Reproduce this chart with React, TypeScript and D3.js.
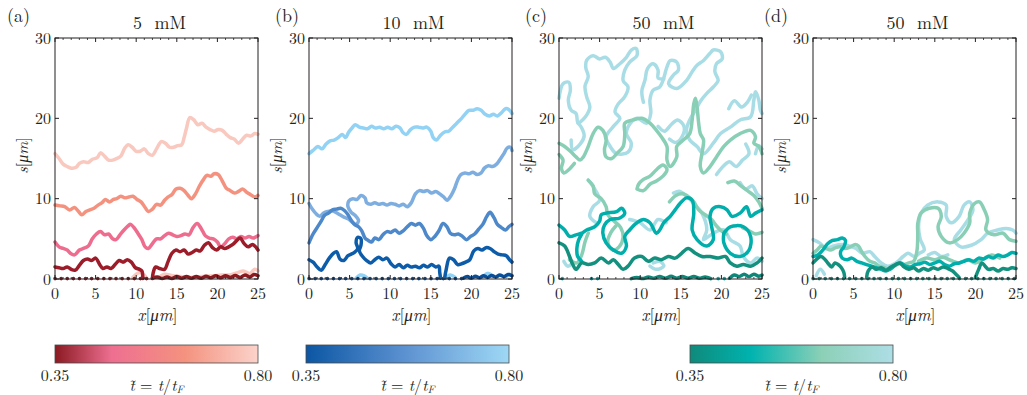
import React from 'react';
import * as d3 from 'd3';

type P = [number, number];

// ---------- labels / ticks ----------
const X_TICKS = [0, 5, 10, 15, 20, 25];
const X_MINOR = [1, 2, 3, 4, 6, 7, 8, 9, 11, 12, 13, 14, 16, 17, 18, 19, 21, 22, 23, 24];
const Y_TICKS = [0, 10, 20, 30];
const PANEL_LABELS = ['(a)', '(b)', '(c)', '(d)'];
const PANEL_TITLES = ['5\u00A0\u2009mM', '10\u00A0\u2009mM', '50\u00A0\u2009mM', '50\u00A0\u2009mM'];
const CB_TICKS = ['0.35', '0.80'];

// ---------- colours ----------
const RED = ['#8A1A20', '#9C1C29', '#EE6C8D', '#F4927F', '#F9C8BF'];
const BLUE = ['#0A4E98', '#0C5CAA', '#4C88CA', '#7DAEDF', '#92D2F4'];
const TEAL = ['#0E8678', '#13907E', '#00AEAB', '#88CFB6', '#A8DDE6'];
const RED_STOPS: [number, string][] = [[0, '#8B1A22'], [0.28, '#EE6F91'], [0.64, '#F4927F'], [1, '#FBD3CB']];
const BLUE_STOPS: [number, string][] = [[0, '#0B56A3'], [0.5, '#5E93D2'], [1, '#9ED8F5']];
const TEAL_STOPS: [number, string][] = [[0, '#0F8A7B'], [0.3, '#00B3AF'], [0.65, '#8CD0B7'], [1, '#ADDEE6']];

// ---------- panel (a) 5 mM ----------
const A_T4: P[] = [[0,15.6],[0.5,15.0],[1,14.3],[1.5,14.0],[2,13.8],[2.6,13.9],[3,14.4],[3.5,14.6],[4.1,14.5],[4.6,14.9],[5.2,15.1],[5.6,15.7],[6.1,15.3],[6.6,14.8],[7.1,14.8],[7.6,15.0],[8.1,15.3],[8.6,16.3],[9,16.7],[9.5,16.4],[10,15.9],[10.5,15.9],[11,16.2],[11.5,15.6],[12,15.4],[12.5,16.2],[13.1,17.1],[13.6,16.9],[14.1,16.4],[14.6,16.4],[15.1,16.6],[15.6,16.7],[15.9,17.6],[16.2,18.8],[16.6,20.1],[17.1,19.8],[17.6,19.2],[18.1,19.4],[18.6,18.9],[19.1,18.6],[19.6,18.4],[20.1,18.6],[20.6,18.5],[21.1,18.0],[21.6,17.6],[22.1,17.4],[22.6,16.9],[23.1,17.4],[23.6,17.9],[24.1,17.8],[24.6,18.1],[25,18.0]];
const A_T4_LOW1: P[] = [[9.5,0.1],[10,0.6],[10.5,0.8],[11,0.5],[11.3,0.1]];
const A_T4_LOW2: P[] = [[12.8,0.2],[13.5,0.6],[14.5,0.4],[15.5,0.3],[16.5,0.2],[18,0.3],[19.5,0.4],[20.5,0.5],[21.5,0.5],[22.5,0.8],[23.2,1.0],[24,0.7],[24.6,1.2],[25,1.0]];
const A_T3: P[] = [[0,9.2],[0.6,9.1],[1.2,9.0],[1.8,8.6],[2.4,8.9],[2.9,8.4],[3.3,8.0],[3.8,8.4],[4.3,8.6],[4.8,8.8],[5.3,9.2],[5.8,9.5],[6.2,9.9],[6.7,9.6],[7.2,9.9],[7.6,10.0],[8.1,10.3],[8.6,10.1],[9.1,10.2],[9.6,10.3],[10.1,9.9],[10.6,9.6],[11.1,8.9],[11.5,8.4],[12,8.7],[12.5,9.3],[13,9.2],[13.5,9.8],[13.9,10.2],[14.4,10.5],[14.9,11.2],[15.4,11.3],[15.9,11.0],[16.4,10.4],[16.8,10.0],[17.3,10.6],[17.8,11.6],[18.3,12.4],[18.7,12.9],[19.2,12.8],[19.6,13.1],[20.1,13.0],[20.6,12.2],[21.1,11.3],[21.6,11.0],[22.1,10.7],[22.6,10.9],[23.1,11.2],[23.6,10.8],[24.1,10.5],[24.6,10.2],[25,10.4]];
const A_T2: P[] = [[0,4.6],[0.5,4.0],[1,3.8],[1.5,3.6],[1.9,3.2],[2.4,3.0],[3,3.6],[3.5,3.8],[4.1,4.1],[4.6,5.0],[5.1,5.6],[5.6,5.9],[6.1,5.5],[6.6,5.6],[7.1,5.0],[7.5,4.9],[8,5.5],[8.5,6.1],[9,6.6],[9.3,6.8],[9.8,6.3],[10.2,5.7],[10.7,4.9],[11.1,4.0],[11.5,3.8],[12,4.4],[12.5,5.0],[13,5.0],[13.5,5.4],[14,5.7],[14.5,5.5],[15,5.3],[15.5,5.4],[16,5.6],[16.5,5.5],[17,6.4],[17.5,6.9],[18,6.3],[18.5,5.4],[19,5.1],[19.5,5.0],[20,4.6],[20.4,4.0],[20.9,4.4],[21.4,5.0],[21.9,5.2],[22.4,5.0],[22.9,5.3],[23.4,5.1],[23.9,5.3],[24.4,5.1],[25,5.4]];
const A_T1_SEG1: P[] = [[0,1.5],[0.5,1.4],[1,1.3],[1.5,1.5],[2,1.2],[2.5,1.1],[3,1.7],[3.5,2.3],[4,2.5],[4.5,2.3],[5,2.6],[5.5,1.8],[5.9,1.3],[6.4,1.5],[6.9,1.3],[7.4,1.8],[7.9,2.3],[8.4,2.1],[8.9,2.4],[9.4,2.1],[9.9,1.4],[10.4,1.2],[10.7,1.0],[10.8,0.4],[10.8,0.05]];
const A_T1_SEG2: P[] = [[12,0.05],[12.1,0.8],[12.4,1.5],[12.9,1.3],[13.5,1.2],[13.9,2.1],[14.4,3.2],[14.9,3.6],[15.4,3.4],[15.9,3.6],[16.4,3.1],[16.9,3.3],[17.4,3.6],[17.9,3.5],[18.4,4.2],[18.9,4.5],[19.4,3.9],[19.9,3.6],[20.4,4.0],[20.9,3.8],[21.4,4.0],[21.9,4.3],[22.4,4.8],[22.8,5.1],[23.3,4.4],[23.8,4.0],[24.3,4.3],[24.7,4.0],[25,3.6]];
const A_T0_DOTS: P[] = [[0,0.05],[12,0.05]];
const A_T0: P[] = [[12,0.1],[12.6,0.25],[13.2,0.05],[13.8,0.25],[14.4,0.05],[15,0.3],[15.6,0.1],[16.2,0.3],[16.8,0.1],[17.4,0.3],[18,0.1],[18.6,0.35],[19.2,0.15],[19.8,0.4],[20.4,0.15],[21,0.4],[21.6,0.2],[22.2,0.45],[22.8,0.2],[23.4,0.5],[24,0.25],[24.5,0.55],[25,0.4]];

// ---------- panel (b) 10 mM ----------
const B_T4: P[] = [[0,15.6],[0.5,16.0],[1.1,16.5],[1.6,16.2],[2.1,16.8],[2.6,17.2],[3.1,17.3],[3.6,17.6],[4.1,18.0],[4.5,17.6],[4.9,18.3],[5.3,18.8],[5.7,19.2],[6.2,18.9],[6.7,18.8],[7.2,18.7],[7.7,19.0],[8.2,18.8],[8.7,18.9],[9.2,18.7],[9.7,18.9],[10.2,18.7],[10.7,19.0],[11.2,18.8],[11.6,18.2],[12,18.0],[12.5,18.6],[13,18.9],[13.5,18.9],[14,18.8],[14.5,18.9],[15,18.4],[15.3,17.6],[15.7,17.3],[16.2,17.9],[16.7,18.3],[17.2,18.4],[17.7,18.9],[18.2,19.4],[18.7,19.9],[19.2,20.5],[19.7,21.0],[20.2,21.0],[20.7,21.2],[21.2,21.0],[21.7,20.5],[22.2,20.3],[22.7,20.5],[23.2,20.3],[23.7,20.7],[24.2,21.2],[24.6,21.1],[25,20.6]];
const B_T4_LOW: P[][] = [[[5.8,0.1],[6.3,0.5],[6.8,0.4],[7.2,0.1]], [[16.8,0.1],[17.4,0.5],[18,0.2]], [[21.4,0.3],[22,0.7],[22.6,0.4]], [[24.3,0.3],[24.7,0.6],[25,0.4]]];
const B_T3: P[] = [[0,9.4],[0.4,8.7],[0.8,8.2],[1.3,7.8],[1.8,8.2],[2.3,8.4],[2.8,8.5],[3.3,8.3],[3.8,8.0],[4.3,7.7],[4.8,7.5],[5.3,7.1],[5.8,6.8],[6.1,7.3],[5.7,7.9],[5.2,8.3],[4.8,9.0],[4.9,9.7],[5.4,10.0],[5.9,9.9],[6.4,10.4],[6.9,10.1],[7.1,9.5],[7.6,9.3],[8.1,9.5],[8.6,9.3],[9.1,9.4],[9.6,9.2],[10.1,9.4],[10.6,9.3],[11.1,9.1],[11.6,9.3],[12.1,9.0],[12.6,9.5],[13.1,10.6],[13.6,11.0],[14.1,10.9],[14.6,11.0],[15.1,10.7],[15.6,10.9],[16.1,10.6],[16.6,10.2],[17,9.8],[17.5,10.4],[17.9,11.2],[18.3,12.3],[18.7,13.0],[19.2,13.2],[19.7,13.1],[20.2,13.3],[20.7,13.0],[21.2,13.2],[21.6,13.8],[22.1,14.1],[22.6,14.0],[23.1,14.3],[23.6,15.0],[24,15.6],[24.4,16.3],[24.8,16.4],[25,16.0]];
const B_T2: P[] = [[0,4.5],[0.5,5.6],[1,6.4],[1.5,7.2],[1.9,7.9],[2.4,8.2],[2.9,8.6],[3.4,8.7],[3.9,8.8],[4.4,8.5],[4.8,8.0],[5.2,7.3],[5.6,6.8],[6.1,6.5],[6.5,6.0],[6.9,5.1],[7.3,4.8],[7.7,4.6],[8.1,5.1],[8.6,4.9],[9.1,5.5],[9.6,5.9],[10.1,5.8],[10.6,6.1],[11.1,5.7],[11.6,6.0],[12.1,6.5],[12.6,6.9],[13.1,6.7],[13.6,6.9],[14.1,6.3],[14.5,5.4],[15,4.9],[15.5,5.3],[16,6.0],[16.5,6.9],[17,6.5],[17.4,5.7],[17.9,5.5],[18.4,5.6],[18.9,5.3],[19.4,4.9],[19.9,5.3],[20.4,5.6],[20.9,6.2],[21.4,6.8],[21.9,7.8],[22.3,8.3],[22.8,7.6],[23.2,6.8],[23.7,6.4],[24.2,6.1],[24.6,6.5],[25,6.8]];
const B_T1_SEG1: P[] = [[0,2.4],[0.5,2.1],[1,1.5],[1.5,1.1],[2,1.8],[2.5,2.6],[3,3.2],[3.4,3.4],[3.8,2.5],[4.3,2.3],[4.8,2.9],[5.2,3.1],[5.6,3.3],[6.0,3.8],[5.8,4.5],[6.0,5.2],[6.4,5.0],[6.4,4.2],[6.2,3.5],[6.6,2.8],[7.1,2.3],[7.6,2.0],[8.1,2.4],[8.6,2.7],[9.1,2.4],[9.6,2.6],[10.1,1.9],[10.6,1.5],[11.1,1.8],[11.6,1.4],[12.1,1.7],[12.6,1.5],[13.1,1.6],[13.6,1.4],[14.1,1.7],[14.6,1.5],[15.1,1.8],[15.6,1.5],[16,1.6],[16.1,0.8],[16.2,0.1]];
const B_T1_SEG2: P[] = [[16.7,0.1],[16.9,1.2],[17.3,2.6],[17.8,2.4],[18.3,1.8],[18.8,1.9],[19.3,2.1],[19.8,2.4],[20.3,3.5],[20.8,3.8],[21.3,3.6],[21.8,3.9],[22.3,3.8],[22.8,3.4],[23.3,3.1],[23.8,3.0],[24.3,2.9],[24.7,2.4],[25,2.1]];
const B_T0_DOTS: P[] = [[0,0.05],[19,0.05]];
const B_T0: P[] = [[19,0.1],[19.5,0.3],[20,0.1],[20.5,0.35],[21,0.15],[21.5,0.4],[22,0.2],[22.5,0.45],[23,0.25],[23.5,0.5],[24,0.3],[24.5,0.55],[25,0.4]];

// ---------- panel (c) 50 mM ----------
const C_T4: P[] = [[0,22.5],[0.5,24.3],[1.2,24.5],[1.4,23.5],[1.15,22.3],[1.5,21.0],[2.1,20.6],[2.35,19.4],[2.9,19.8],[3.4,20.4],[3.8,21.4],[3.4,22.7],[3.2,24.0],[3.6,25.2],[3.3,26.3],[3.4,27.2],[4.2,27.8],[5,27.4],[5.7,27.6],[6.3,27.0],[6.7,26.2],[7.5,26.8],[8.3,27.6],[8.9,28.5],[9.5,28.7],[9.6,27.8],[8.7,27.0],[8.1,26.0],[7.9,24.7],[8.5,23.9],[8.1,22.7],[7.3,21.8],[6.9,20.8],[7.5,20.0],[6.7,19.0],[5.8,17.7],[6.3,16.5],[7.1,15.6],[8.5,15.8],[8.9,16.9],[8.3,18.1],[8.8,19.4],[9.6,20.0],[10.8,19.4],[11.3,20.6],[11.2,22.3],[11.6,23.5],[12.4,23.9],[12.8,24.7],[13.3,26.4],[13.7,27.2],[14.5,27.0],[14.7,26.0],[14.1,25.4],[13.5,24.3],[14.5,23.7],[15.7,24.7],[16.4,25.8],[17,26.6],[17.8,27.2],[18.6,28.1],[19,28.5],[19.9,28.3],[20.1,27.4],[19.4,26.8],[19.2,25.8],[19.6,24.7],[19,23.9],[18.2,23.1],[17.4,22.1],[16.8,21.0],[16.1,19.8],[15.7,18.5],[16.1,17.3],[17,16.5],[17.8,15.6],[19,16.9],[19.9,18.1],[21.1,18.9],[22.3,19.8],[23.6,20.2],[24,22.3],[24.2,23.3],[24.6,22.3],[24.8,21.0],[25,20.6]];
const C_T4_PARTS: P[][] = [
  [[1.5,17.3],[1.7,16.1],[2.6,16.8],[3.1,17.8],[2.8,18.8],[2.35,19.4]],
  [[10.4,22.0],[10.2,23.4],[10.6,24.8],[10.9,26.2],[11.6,26.8],[12.2,26.0],[12.2,25.0],[12.9,24.9]],
  [[12.2,19.0],[13.0,18.4],[13.8,19.2],[14.6,19.8],[15.4,19.0],[15.2,17.8],[14.4,17.0],[13.6,17.4]],
  [[19.4,13.0],[20.2,14.0],[21.0,14.6],[21.8,14.0],[22.6,14.8],[23.4,15.6],[23.0,16.8]],
  [[20.9,21.2],[21.6,22.2],[22.5,21.4],[23.2,22.0],[23.7,22.9]],
  [[24.2,15.6],[24.6,16.6],[25,16.2]],
  [[3.6,12.3],[4.2,11.5],[5,9.8],[4.2,9.0],[3.8,7.8],[4.6,7.0]],
  [[8.7,7.4],[10,7.0],[11.2,6.1],[12.2,7.4],[13.2,7.0]],
  [[14.1,10.7],[14.9,10.9],[15.7,10.3],[16.6,9.4],[17.6,8.2],[18.2,6.1],[17.8,4.9],[19,5.7],[20.3,6.1],[21.1,4.9],[22.3,4.1],[22.7,2.8],[23.6,2.0],[24.4,2.6],[25,2.2]],
  [[11.2,1.6],[12,1.2],[12.9,1.6],[12.4,2.2],[11.6,2.0]],
  [[0.6,2.2],[1.1,1.6],[1.6,2.0],[1.3,2.6]],
  [[22.3,12.0],[23,11.2],[23.8,11.6],[24.4,10.6],[25,10.0]],
];
const C_T3: P[] = [[0,16.9],[0.7,16.5],[1.5,15.8],[2.1,15.2],[2.6,14.8],[3,15.2],[3.6,16.5],[4.2,18.1],[4.8,18.9],[5.4,18.5],[5.8,17.3],[5.6,16.1],[5.8,15.2],[6.5,15.0],[7.1,15.6],[7.9,16.5],[8.1,18.1],[8.1,19.4],[9.1,19.8],[10.2,20.0],[11.2,19.4],[12,18.5],[12.6,17.7],[13.3,16.5],[13.3,14.8],[13.7,14.0],[14.5,15.2],[14.5,16.5],[15.3,17.3],[16.1,18.1],[16.4,19.8],[16.6,21.8],[16.8,22.5],[17,21.4],[17.2,19.4],[17.4,18.1],[17.8,17.3],[17.6,15.6],[17.4,14.0],[17.8,13.2],[18.6,14.0],[19.4,15.2],[20.3,16.5],[21.1,17.3],[22.3,18.1],[23.6,18.5],[24.2,17.7],[24,16.9],[24.6,16.5],[25,15.6]];
const C_T3_PARTS: P[][] = [
  [[0,15.5],[0.5,14.8],[0.3,13.8],[0.6,13.2],[1.2,13.6],[1.9,14.4]],
  [[3.6,12.3],[4.2,11.6],[4.4,10.6],[5.2,10.0],[5.8,9.0],[6.0,8.0],[6.8,7.2],[7.6,6.4],[7.9,5.2],[7.4,4.0],[6.6,3.6],[6.0,4.6],[6.4,5.8],[7.0,6.6]],
  [[9.6,11.2],[10.4,11.0],[11.2,11.8],[12.0,12.2],[12.8,12.8],[13.3,13.6],[12.8,14.2],[12.0,13.6],[11.2,12.8],[10.4,12.4],[9.8,11.8],[9.6,11.2]],
  [[13.6,9.6],[14.4,10.4],[15.2,10.6],[16,10.2],[16.6,9.6],[17.2,8.6],[18,8.0],[18.8,7.4],[19.4,6.6],[20,6.0],[20.6,5.6]],
  [[20.8,12.0],[21.6,12.2],[22.4,11.6],[23.2,11.0],[24.0,10.4],[24.6,9.6],[25,8.8]],
  [[22.6,6.4],[23.4,6.0],[24.2,5.6],[25,5.8]],
  [[1.3,2.4],[2.2,2.0],[2.8,3.0],[3.2,4.6],[3.6,5.7]],
];
const C_T2: P[] = [[0,6.7],[0.7,6.1],[1.3,5.3],[2.1,5.5],[2.8,5.7],[3.4,6.1],[4.4,6.5],[5,7.2],[5.2,8.0],[5.8,8.2],[7.1,8.4],[7.7,8.8],[8.1,8.2],[7.5,7.6],[6.3,7.4],[5.6,6.7],[5.4,5.7],[5.8,4.5],[6.7,3.6],[7.7,3.2],[8.3,4.1],[8.1,5.3],[8.7,6.1],[9.6,7.0],[10.4,7.4],[11.2,7.0],[12,5.7],[12.4,6.1],[12.9,7.0],[13.7,7.8],[14.3,8.6],[14.9,9.4],[15.7,10.1],[16.4,9.8],[16.6,8.2],[16.4,6.1],[17,4.9],[18.2,4.1],[19,4.9],[18.8,6.5],[18.6,7.8],[19,8.8],[19.9,9.0],[20.7,8.6],[21.3,7.8],[22.3,8.2],[23.1,9.0],[23.6,7.8],[24.2,8.2],[25,8.6]];
const C_T2_PARTS: P[][] = [
  [[20.3,5.7],[21.1,6.5],[22.7,6.5],[23.6,5.3],[23.4,3.6],[22.3,2.8],[21.1,3.2],[20.3,4.5],[20.3,5.7]],
  [[2.8,5.6],[2.4,4.8],[2.2,3.8],[2.3,2.8],[2.8,2.2]],
];
const C_T1: P[] = [[0,4.5],[0.7,4.1],[1.3,2.8],[1.7,1.8],[2.1,1.2],[2.8,2.0],[3.6,1.8],[4.4,2.0],[5.2,2.6],[6.1,2.0],[6.7,2.4],[7.3,1.8],[7.9,1.2],[8.5,1.6],[9.3,2.6],[10.2,2.8],[11,2.2],[11.8,2.6],[12.6,2.4],[13.5,2.8],[14.3,2.6],[15.1,3.2],[15.9,3.8],[16.8,3.2],[17.6,2.8],[18.6,2.8],[19.6,2.6],[20.5,2.8],[21.1,2.0],[21.9,1.6],[22.7,1.8],[23.6,1.6],[24.4,2.0],[25,2.6]];
const C_T0_DOTS: P[][] = [[[0.4,0.05],[0.6,0.05]], [[4.0,0.05],[5.0,0.05]], [[19.6,0.05],[20.4,0.05]]];
const C_T0: P[][] = [
  [[8.9,0.05],[9.6,0.2],[10.3,0.05],[11,0.25],[11.7,0.1],[12.4,0.3],[13.1,0.1],[13.8,0.35],[14.5,0.1],[15.2,0.3],[15.9,0.1],[16.6,0.3],[17.3,0.1],[18,0.25],[18.7,0.05]],
  [[21,0.1],[21.6,0.5],[22.2,0.3],[22.8,0.6],[23.4,0.3],[24,0.6],[24.6,0.35],[25,0.5]],
];

// ---------- panel (d) 50 mM ----------
const D_T4: P[] = [[0,4.9],[0.8,4.5],[1.6,3.8],[2.5,4.1],[3.5,4.3],[4.5,4.1],[5.3,3.8],[6.1,3.2],[7,3.4],[7.6,2.8],[8.4,2.0],[9.2,1.6],[10.2,2.0],[11.1,2.8],[11.7,3.2],[12.5,2.8],[13.1,3.2],[13.7,3.6],[13.2,5.0],[13.0,6.5],[13.3,8.2],[14.1,9.2],[15.4,9.6],[16.4,9.2],[16.4,7.8],[17,7.0],[18,7.8],[18.6,9.2],[19.3,9.6],[19.7,8.6],[19.1,7.4],[18.2,6.1],[17.4,4.9],[18.2,4.0],[19.5,4.2],[20.7,4.9],[21.5,5.7],[22.7,6.1],[23.8,6.3],[24.6,6.1],[25,5.7]];
const D_T4_PARTS: P[][] = [
  [[0.4,0.4],[0.9,1.2],[1.4,0.6]],
  [[14.2,3.0],[15,3.3],[15.8,2.8],[16.6,3.0]],
];
const D_T3: P[] = [[0,3.2],[0.5,3.6],[1,4.1],[1.6,3.8],[2.2,3.6],[2.8,3.9],[3.4,4.0],[4,3.8],[4.6,4.0],[5.2,4.3],[5.6,4.1],[6,3.4],[6.4,2.8],[7,2.2],[7.6,2.0],[8.2,1.6],[8.8,1.4],[9.4,1.2],[10,1.6],[10.6,1.9],[11.2,1.8],[11.8,2.0],[12.4,2.2],[12.8,3.5],[12.9,5.5],[12.9,6.9],[13.3,8.2],[14.3,8.8],[15.4,8.8],[15.8,7.8],[15.4,6.5],[15.8,5.3],[16.8,4.5],[17.8,4.9],[18.6,5.7],[19.3,7.0],[19.3,8.2],[19.9,9.4],[20.5,9.6],[21.1,8.6],[21.5,7.4],[21.3,6.1],[22.3,5.5],[23.4,5.7],[24.2,4.9],[25,4.7]];
const D_T3_PARTS: P[][] = [
  [[13,2.2],[14,2.6],[15,2.4],[16,2.7],[17,2.3],[18,2.0],[19,2.4],[20,2.0],[21,2.5],[22,3.0],[23,2.6]],
];
const D_T2: P[] = [[0,2.8],[0.6,3.0],[1.2,3.6],[1.8,4.4],[2.4,4.8],[3,4.9],[3.6,5.1],[4,4.8],[3.8,4.0],[3.4,3.4],[3.6,2.6],[4.2,2.4],[4.8,2.6],[5.4,2.2],[6,2.0],[6.6,1.8],[7.2,1.6],[7.8,1.4],[8.4,1.2],[9,1.0],[9.6,1.3],[10.2,1.8],[10.8,2.0],[11.4,1.6],[12,1.5],[12.6,1.8],[13.2,1.9],[13.8,2.1],[14.4,1.8],[15,2.0],[15.6,2.2],[16.2,1.8],[16.8,1.6],[17.4,1.9],[18,2.0],[18.6,2.2],[19.2,2.4],[19.8,2.2],[20.4,2.6],[21,2.5],[21.6,2.8],[22.2,2.6],[22.8,3.0],[23.4,2.8],[24,3.0],[24.5,3.3],[25,3.2]];
const D_T1: P[][] = [
  [[0,2.0],[0.5,2.5],[1,2.8],[1.5,2.4],[1.9,1.9],[2.3,1.5],[2.7,2.0],[3.1,1.8],[3.5,1.4],[3.8,0.8],[3.9,0.2]],
  [[6.6,0.2],[6.8,1.0],[7.3,1.5],[7.8,1.2],[8.4,1.4],[9,1.1],[9.6,1.5],[10.2,1.8],[10.7,2.0],[11.2,1.5],[11.8,1.2],[12.4,1.4],[13,1.0],[13.6,1.3],[14.2,1.1],[14.8,1.4],[15.4,1.2],[16,1.5],[16.6,1.3],[17.2,1.0],[17.6,0.6],[18,0.2]],
  [[20,0.2],[20.4,1.2],[20.8,2.0],[21.2,1.6],[21.6,1.2],[22.2,1.3],[22.8,1.0],[23.4,1.3],[24,1.2],[24.5,1.4],[25,1.3]],
];
const D_T0_DOTS: P[] = [[0,0.05],[25,0.05]];

// ---------- series table ----------
type Series = { panel: number; color: string; pts: P[]; dotted?: boolean };
const SERIES: Series[] = [
  { panel: 0, color: RED[4], pts: A_T4 },
  { panel: 0, color: RED[4], pts: A_T4_LOW1 },
  { panel: 0, color: RED[4], pts: A_T4_LOW2 },
  { panel: 0, color: RED[3], pts: A_T3 },
  { panel: 0, color: RED[2], pts: A_T2 },
  { panel: 0, color: RED[0], pts: A_T0_DOTS, dotted: true },
  { panel: 0, color: RED[0], pts: A_T0 },
  { panel: 0, color: RED[1], pts: A_T1_SEG1 },
  { panel: 0, color: RED[1], pts: A_T1_SEG2 },

  { panel: 1, color: BLUE[4], pts: B_T4 },
  ...B_T4_LOW.map((pts) => ({ panel: 1, color: BLUE[4], pts })),
  { panel: 1, color: BLUE[3], pts: B_T3 },
  { panel: 1, color: BLUE[2], pts: B_T2 },
  { panel: 1, color: BLUE[0], pts: B_T0_DOTS, dotted: true },
  { panel: 1, color: BLUE[0], pts: B_T0 },
  { panel: 1, color: BLUE[1], pts: B_T1_SEG1 },
  { panel: 1, color: BLUE[1], pts: B_T1_SEG2 },

  { panel: 2, color: TEAL[4], pts: C_T4 },
  ...C_T4_PARTS.map((pts) => ({ panel: 2, color: TEAL[4], pts })),
  { panel: 2, color: TEAL[3], pts: C_T3 },
  ...C_T3_PARTS.map((pts) => ({ panel: 2, color: TEAL[3], pts })),
  { panel: 2, color: TEAL[2], pts: C_T2 },
  ...C_T2_PARTS.map((pts) => ({ panel: 2, color: TEAL[2], pts })),
  ...C_T0_DOTS.map((pts) => ({ panel: 2, color: TEAL[2], pts, dotted: true })),
  { panel: 2, color: TEAL[1], pts: C_T1 },
  ...C_T0.map((pts) => ({ panel: 2, color: TEAL[0], pts })),

  { panel: 3, color: TEAL[4], pts: D_T4 },
  ...D_T4_PARTS.map((pts) => ({ panel: 3, color: TEAL[4], pts })),
  { panel: 3, color: TEAL[3], pts: D_T3 },
  ...D_T3_PARTS.map((pts) => ({ panel: 3, color: TEAL[3], pts })),
  { panel: 3, color: TEAL[2], pts: D_T2 },
  { panel: 3, color: TEAL[0], pts: D_T0_DOTS, dotted: true },
  ...D_T1.map((pts) => ({ panel: 3, color: TEAL[1], pts })),
];

// ---------- layout ----------
const W = 1027;
const H = 395;
const TOP = 38;
const BOTTOM = 279;
const PW = 203;
const PANEL_LEFT = [55, 309, 559, 813];
const LABEL_X = [7, 275, 525, 764];
const CBARS = [
  { left: 55, stops: RED_STOPS },
  { left: 306, stops: BLUE_STOPS },
  { left: 690, stops: TEAL_STOPS },
];
const CB_TOP = 345;
const CB_H = 18;
const FONT = 'Latin Modern Roman';
const INK = '#231F20';
const TXT = { fontFamily: FONT };

function Panel({ idx }: { idx: number }) {
  const left = PANEL_LEFT[idx];
  const x = d3.scaleLinear().domain([0, 25]).range([left, left + PW]);
  const y = d3.scaleLinear().domain([0, 30]).range([BOTTOM, TOP]);
  const line = d3
    .line<P>()
    .x((d) => x(d[0]))
    .y((d) => y(d[1]))
    .curve(d3.curveCatmullRom.alpha(0.5));
  const series = SERIES.filter((s) => s.panel === idx);
  const cx = left + PW / 2;
  return (
    <g>
      {series.map((s, i) => (
        <path
          key={i}
          d={line(s.pts) || ''}
          fill="none"
          stroke={s.color}
          strokeWidth={s.dotted ? 3.6 : 3.5}
          strokeLinecap="round"
          strokeLinejoin="round"
          strokeDasharray={s.dotted ? '0.1 6' : undefined}
        />
      ))}
      <rect x={left} y={TOP} width={PW} height={BOTTOM - TOP} fill="none" stroke={INK} strokeWidth={1} />
      {X_TICKS.map((t) => (
        <g key={'xt' + t}>
          <line x1={x(t)} x2={x(t)} y1={BOTTOM} y2={BOTTOM - 4} stroke={INK} />
          <line x1={x(t)} x2={x(t)} y1={TOP} y2={TOP + 4} stroke={INK} />
          <text x={x(t)} y={299} textAnchor="middle" style={TXT} fontSize={16} fill={INK}>
            {t}
          </text>
        </g>
      ))}
      {X_MINOR.map((t) => (
        <g key={'xm' + t}>
          <line x1={x(t)} x2={x(t)} y1={BOTTOM} y2={BOTTOM - 2} stroke={INK} strokeWidth={0.8} />
          <line x1={x(t)} x2={x(t)} y1={TOP} y2={TOP + 2} stroke={INK} strokeWidth={0.8} />
        </g>
      ))}
      {Y_TICKS.map((t) => (
        <g key={'yt' + t}>
          <line x1={left} x2={left + 4} y1={y(t)} y2={y(t)} stroke={INK} />
          <line x1={left + PW} x2={left + PW - 4} y1={y(t)} y2={y(t)} stroke={INK} />
          <text x={left - 4} y={y(t) + 5.5} textAnchor="end" style={TXT} fontSize={16} fill={INK}>
            {t}
          </text>
        </g>
      ))}
      <text x={cx + 3} y={29} textAnchor="middle" style={TXT} fontSize={18} fill={INK}>
        {PANEL_TITLES[idx]}
      </text>
      <text x={LABEL_X[idx]} y={21.5} style={TXT} fontSize={18} fill={INK}>
        {PANEL_LABELS[idx]}
      </text>
      <text x={cx + 1} y={321} textAnchor="middle" style={TXT} fontSize={17} fill={INK}>
        <tspan fontStyle="italic">x</tspan>[<tspan fontStyle="italic">μm</tspan>]
      </text>
      <text
        transform={`translate(${left - 27},${(TOP + BOTTOM) / 2 - 3}) rotate(-90)`}
        textAnchor="middle"
        style={TXT}
        fontSize={16}
        fill={INK}
      >
        <tspan fontStyle="italic">s</tspan>[<tspan fontStyle="italic">μm</tspan>]
      </text>
    </g>
  );
}

function Colorbar({ idx }: { idx: number }) {
  const cb = CBARS[idx];
  const scale = d3.scaleLinear().domain([0, 1]).range([cb.left, cb.left + PW]);
  const id = 'cbgrad' + idx;
  return (
    <g>
      <defs>
        <linearGradient id={id} x1="0" x2="1" y1="0" y2="0">
          {cb.stops.map(([o, c], i) => (
            <stop key={i} offset={o} stopColor={c} />
          ))}
        </linearGradient>
      </defs>
      <rect x={scale(0)} y={CB_TOP} width={scale(1) - scale(0)} height={CB_H} fill={`url(#${id})`} stroke="#4a4a4a" strokeWidth={0.8} />
      <text x={scale(0)} y={381} textAnchor="middle" style={TXT} fontSize={16} fill={INK}>
        {CB_TICKS[0]}
      </text>
      <text x={scale(1)} y={381} textAnchor="middle" style={TXT} fontSize={16} fill={INK}>
        {CB_TICKS[1]}
      </text>
      <text x={scale(0.5)} y={391} textAnchor="middle" style={TXT} fontSize={16} fill={INK}>
        <tspan fontStyle="italic">{'t\u0303'}</tspan>
        {' = '}
        <tspan fontStyle="italic">t</tspan>/<tspan fontStyle="italic">t</tspan>
        <tspan fontStyle="italic" fontSize={11} dy={2}>F</tspan>
      </text>
    </g>
  );
}

export default function App() {
  return (
    <svg
      width={W}
      height={H}
      viewBox={`0 0 ${W} ${H}`}
      style={{ position: 'absolute', left: 0, top: 0, background: '#fff' }}
    >
      <rect width={W} height={H} fill="#fff" />
      {[0, 1, 2, 3].map((i) => (
        <Panel key={i} idx={i} />
      ))}
      {[0, 1, 2].map((i) => (
        <Colorbar key={i} idx={i} />
      ))}
    </svg>
  );
}
